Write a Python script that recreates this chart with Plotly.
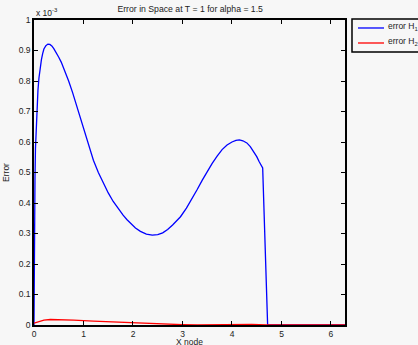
import plotly.graph_objects as go

# values in units of 1e-3
x_h1 = [0.0, 0.005, 0.01, 0.02, 0.03, 0.045, 0.06, 0.08, 0.10, 0.125, 0.15, 0.175, 0.20, 0.24,
        0.28, 0.32, 0.36, 0.40, 0.45, 0.50, 0.55, 0.62, 0.70, 0.78, 0.85, 0.94, 1.03, 1.11,
        1.2, 1.3, 1.4, 1.5, 1.6, 1.7, 1.8, 1.88, 1.95, 2.05, 2.15, 2.27, 2.39, 2.5, 2.6, 2.7,
        2.8, 2.88, 2.96, 3.08, 3.2, 3.3, 3.4, 3.5, 3.6, 3.7, 3.8, 3.9, 4.0, 4.08, 4.15, 4.22,
        4.3, 4.37, 4.44, 4.5, 4.55, 4.62, 4.72, 5.0, 5.5, 6.2832]
y_h1 = [0.0, 0.25, 0.35, 0.48, 0.58, 0.66, 0.72, 0.77, 0.81, 0.845, 0.87, 0.89, 0.905, 0.916,
        0.921, 0.920, 0.915, 0.906, 0.893, 0.878, 0.862, 0.835, 0.80, 0.762, 0.725, 0.672, 0.622, 0.58,
        0.54, 0.50, 0.465, 0.433, 0.405, 0.381, 0.36, 0.345, 0.333, 0.318, 0.307, 0.298, 0.295, 0.296, 0.302, 0.313,
        0.328, 0.341, 0.355, 0.383, 0.415, 0.445, 0.475, 0.503, 0.53, 0.554, 0.575, 0.590, 0.600, 0.605, 0.607, 0.604,
        0.597, 0.585, 0.568, 0.552, 0.535, 0.515, 0.0, 0.0, 0.0, 0.0]

x_h2 = [0.0, 0.05, 0.1, 0.2, 0.33, 0.5, 0.8, 1.2, 1.6, 2.0, 2.5, 3.0, 3.3, 3.6, 4.0, 4.4, 4.7, 5.0, 6.2832]
y_h2 = [0.006, 0.009, 0.012, 0.016, 0.018, 0.018, 0.016, 0.013, 0.010, 0.0075, 0.004, 0.001, 0.0, 0.001, 0.002, 0.002, 0.0, 0.0, 0.0]

series_names = ["error H<sub>1</sub>", "error H<sub>2</sub>"]
series_colors = ["#0000ff", "#ff0000"]
x_ticks = [0, 1, 2, 3, 4, 5, 6]
y_ticks = [0, 0.1, 0.2, 0.3, 0.4, 0.5, 0.6, 0.7, 0.8, 0.9, 1]
y_tick_labels = ["0", "0.1", "0.2", "0.3", "0.4", "0.5", "0.6", "0.7", "0.8", "0.9", "1"]

bg = "#f7f7f7"
fam = "Liberation Sans, Arial, sans-serif"
font = dict(family=fam, size=8.5, color="#222")

fig = go.Figure()
fig.add_trace(go.Scatter(x=x_h1, y=y_h1, mode="lines", name=series_names[0],
                         line=dict(color=series_colors[0], width=1.3)))
fig.add_trace(go.Scatter(x=x_h2, y=y_h2, mode="lines", name=series_names[1],
                         line=dict(color=series_colors[1], width=1.3)))

axis_common = dict(showline=True, linecolor="black", linewidth=1.5, mirror="ticks",
                   ticks="inside", ticklen=4, tickcolor="black", showgrid=False,
                   zeroline=False, tickfont=font, automargin=False)

# manual legend (paper coordinates)
shapes = [dict(type="rect", xref="paper", yref="paper", x0=1.0225, x1=1.26, y0=0.895, y1=1.0033,
               line=dict(color="black", width=1.5), fillcolor=bg, layer="above")]
annotations = [dict(text="x 10<sup>-3</sup>", xref="paper", yref="paper", x=0.0, y=1.0,
                    xanchor="left", yanchor="bottom", showarrow=False, font=font),
               dict(text="X node", xref="paper", yref="paper", x=0.5, y=-0.034,
                    xanchor="center", yanchor="top", showarrow=False, font=font)]
leg_y = [0.9738, 0.9246]
for name, col, ly in zip(series_names, series_colors, leg_y):
    shapes.append(dict(type="line", xref="paper", yref="paper", x0=1.0418, x1=1.1254, y0=ly, y1=ly,
                       line=dict(color=col, width=1.3), layer="above"))
    annotations.append(dict(text=name, xref="paper", yref="paper", x=1.1318, y=ly + 0.004,
                            xanchor="left", yanchor="middle", showarrow=False, font=font))

fig.update_layout(
    width=418, height=345,
    margin=dict(l=34, r=73, t=20, b=20),
    paper_bgcolor=bg, plot_bgcolor=bg,
    font=font,
    title=dict(text="Error in Space at T = 1 for alpha = 1.5", x=0.455, xanchor="center",
               y=0.975, yanchor="middle", font=dict(size=8.7, family=fam, color="#222")),
    xaxis=dict(range=[0, 6.2832], tickvals=x_ticks, **axis_common),
    yaxis=dict(range=[0, 1], tickvals=y_ticks, ticktext=y_tick_labels, **axis_common,
               title=dict(text="Error", standoff=8, font=font)),
    showlegend=False,
    shapes=shapes,
    annotations=annotations,
)

fig.write_html("out.html")
